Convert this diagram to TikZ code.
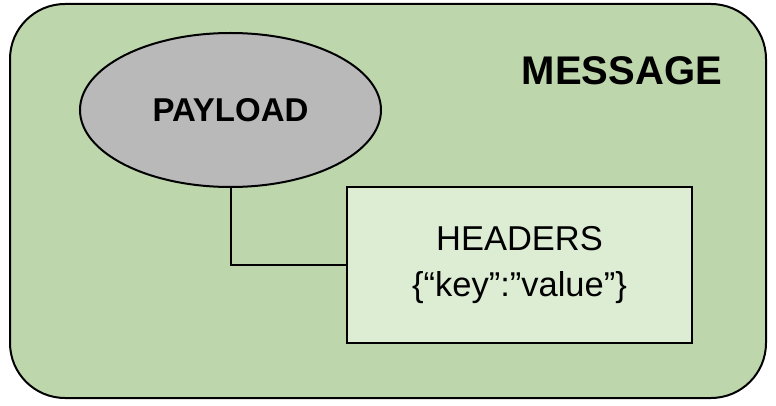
\documentclass[tikz,border=0pt]{standalone}
\usepackage{fontspec}
\setmainfont{Liberation Sans}
\usetikzlibrary{shapes.geometric}
\definecolor{msggreen}{RGB}{189,214,172}
\definecolor{hdrgreen}{RGB}{221,237,211}
\definecolor{paygray}{RGB}{185,185,185}
\tikzset{
  outerbox/.style={draw=black, line width=2pt, fill=msggreen, rounded corners=55pt},
  payloadnode/.style={ellipse, draw=black, line width=2pt, fill=paygray, minimum width=301pt, minimum height=154pt, inner sep=0pt, font=\fontsize{33}{38}\selectfont\bfseries},
  headernode/.style={rectangle, draw=black, line width=2pt, fill=hdrgreen, minimum width=345pt, minimum height=156pt, inner sep=0pt, align=center, font=\fontsize{34.5}{46}\selectfont},
  titlenode/.style={inner sep=0pt, font=\fontsize{40}{46}\selectfont\bfseries},
  link/.style={draw=black, line width=2pt}
}
\begin{document}
\begin{tikzpicture}[x=1pt,y=-1pt]
\useasboundingbox (0,0) rectangle (776,406);
\fill[white] (0,0) rectangle (776,406);
\draw[outerbox] (10,4) rectangle (766,398);
\node[titlenode, anchor=base] (message) at (622,85) {MESSAGE};
\node[payloadnode] (payload) at (230.5,110) {PAYLOAD};
\node[headernode] (headers) at (519.5,265) {HEADERS\\\{“key”:”value”\}};
\draw[link] (payload.south) |- (headers.west);
\end{tikzpicture}
\end{document}
